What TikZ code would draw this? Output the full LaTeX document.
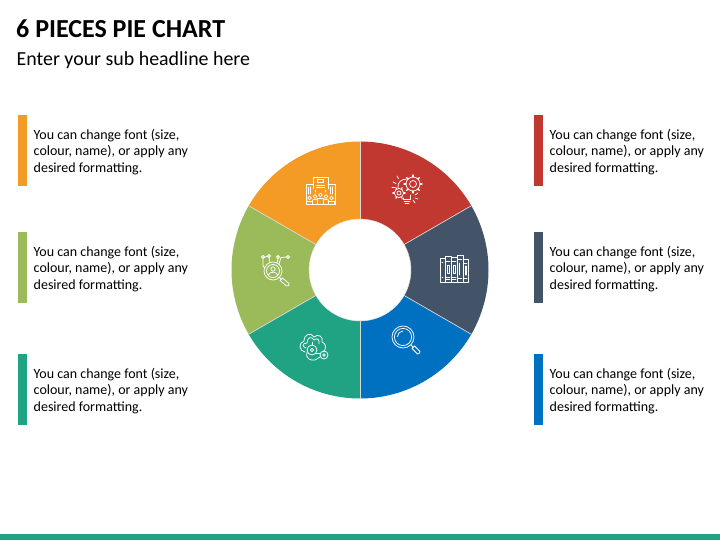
\documentclass[tikz,border=0pt]{standalone}
\usepackage{fontspec}
\setmainfont{Carlito}
\definecolor{corange}{HTML}{F49B26}
\definecolor{cred}{HTML}{C0382F}
\definecolor{cslate}{HTML}{435469}
\definecolor{cblue}{HTML}{0070C0}
\definecolor{cteal}{HTML}{1FA383}
\definecolor{cgreen}{HTML}{9BBB5B}
\tikzset{
 titletext/.style={anchor=west,inner sep=0pt,font=\fontsize{26}{30}\selectfont\bfseries,text=black},
 subtext/.style={anchor=west,inner sep=0pt,font=\fontsize{19.9}{24}\selectfont,text=black},
 bodytext/.style={anchor=north west,inner sep=0pt,align=left,font=\fontsize{14}{16.5}\selectfont,text=black},
 bar/.style={anchor=north west,inner sep=0pt,minimum width=9pt,minimum height=71pt},
 ico/.style={draw=white,line width=0.75pt,fill=none,line cap=round,line join=round},
}
\newcommand{\piece}[3]{\fill[#3] (#1:51) -- (#1:128.5) arc[start angle=#1,end angle=#2,radius=128.5] -- (#2:51) arc[start angle=#2,end angle=#1,radius=51] -- cycle;}
\newcommand{\bodycopy}{You can change font (size,\\colour, name), or apply any\\desired formatting.}
\begin{document}
\begin{tikzpicture}[x=1pt,y=-1pt]
\useasboundingbox (0,0) rectangle (720,540);
\fill[white] (0,0) rectangle (720,540);
\fill[cteal] (0,534) rectangle (720,540);
\node[titletext] (title) at (16,29) {6 PIECES PIE CHART};
\node[subtext] (sub) at (16.5,60.5) {Enter your sub headline here};
% bars
\node[bar,fill=corange] (b1) at (18,115) {};
\node[bar,fill=cgreen] (b2) at (18,232) {};
\node[bar,fill=cteal] (b3) at (18,354) {};
\node[bar,fill=cred] (b4) at (534,115) {};
\node[bar,fill=cslate] (b5) at (534,232) {};
\node[bar,fill=cblue] (b6) at (534,354) {};
\node[bodytext] (t1) at (33.5,128.7) {\bodycopy};
\node[bodytext] (t2) at (33.5,245.7) {\bodycopy};
\node[bodytext] (t3) at (33.5,367.7) {\bodycopy};
\node[bodytext] (t4) at (549.5,128.7) {\bodycopy};
\node[bodytext] (t5) at (549.5,245.7) {\bodycopy};
\node[bodytext] (t6) at (549.5,367.7) {\bodycopy};
% pie (y axis points down, so angles run clockwise from east)
\begin{scope}[shift={(360,270)}]
\piece{-90}{-30}{cred}
\piece{-30}{30}{cslate}
\piece{30}{90}{cblue}
\piece{90}{150}{cteal}
\piece{150}{210}{cgreen}
\piece{210}{270}{corange}
\foreach \a in {-90,-30,30,90,150,210} \draw[white!85!black,line width=0.7pt] (\a:51) -- (\a:128.5);
\draw[white!90!black,line width=0.4pt] (0,0) circle[radius=51];
\end{scope}
% icon: buildings and people
\begin{scope}[shift={(320.5,191)},ico]
\draw (-7.5,-2) -- (-7.5,-14) -- (7.5,-14) -- (7.5,-2);
\draw (-7.5,-7) -- (-14.5,-7) -- (-14.5,13) -- (14.5,13) -- (14.5,-7) -- (7.5,-7);
\draw (-3,-12) rectangle (3,-8.5);
\draw (-4,-6) -- (4,-6) (-4,-3.5) -- (4,-3.5);
\draw (-12,-4) -- (-12,3) (-10,-4) -- (-10,3) (12,-4) -- (12,3) (10,-4) -- (10,3);
\draw (-5,-1) -- (-5,1) (5,-1) -- (5,1);
\foreach \x/\yy in {-11/7,-5.5/5.5,5.5/5.5,11/7,0/4} {\draw (\x,\yy) circle[radius=1.9];}
\draw (-14,13) -- (-14,10.5) -- (-8,10.5) -- (-8,13);
\draw (-8,13) -- (-8,9) -- (-3,8) -- (-3,13);
\draw (8,13) -- (8,9) -- (3,8) -- (3,13);
\draw (14,13) -- (14,10.5) -- (8,10.5) -- (8,13);
\draw (-3,13) -- (-3,7.5) -- (3,7.5) -- (3,13);
\end{scope}
% icon: bulb and gears
\begin{scope}[shift={(407,190)},ico]
\draw (-9,-2) .. controls (-10,-8) and (-5,-11) .. (0,-11);
\draw (-4,9) -- (3,9) -- (3,5);
\draw (-4,9) -- (-4,8);
\draw (-3,11) -- (3,11) (-2,13.5) -- (2,13.5);
\draw (6,-6) circle[radius=3.5];
\draw (6,-6) circle[radius=7];
\foreach \a in {0,45,...,315} \draw[line width=1.3pt] (6,-6) ++(\a:7) -- ++(\a:2);
\draw (-8,3) circle[radius=2];
\draw (-8,3) circle[radius=4.6];
\foreach \a in {0,60,...,300} \draw[line width=1.1pt] (-8,3) ++(\a:4.6) -- ++(\a:1.6);
\draw (-14,-8) -- (-11,-6.5) (-15,-2.5) -- (-12,-2.5) (-10,-14) -- (-8.5,-11.5);
\draw (8,5) -- (11,3) (8,8) -- (11,9) (6,10) -- (8,13);
\end{scope}
% icon: books
\begin{scope}[shift={(454,269)},ico]
\draw (-14,-11) rectangle (-9,13);
\draw (-9,-13) rectangle (-3,13);
\draw (-3,-12) rectangle (3,13);
\draw (3,-14) rectangle (9,13);
\draw (9,-10) rectangle (14,13);
\draw (-8,-8) -- (-4,-8) (-7,-4) rectangle (-5,4) (-8,8) -- (-4,8) (-8,10) -- (-4,10);
\draw (-2,-8) -- (2,-8) (-1,-4) rectangle (1,4) (-2,8) -- (2,8) (-2,10) -- (2,10);
\draw (4,-10) -- (8,-10) (5,-6) -- (5,6) (4,9) -- (8,9);
\draw (10,-6) -- (13,-6) (11,-3) -- (11,6) (12.5,-3) -- (12.5,6) (10,9) -- (13,9);
\draw (-12,-7) -- (-11,-7) (-12,8) -- (-11,8);
\end{scope}
% icon: magnifier
\begin{scope}[shift={(403,337)},ico]
\draw (0,0) circle[radius=11];
\draw (0,0) circle[radius=8.6];
\draw (-5.5,-0.5) arc[start angle=180,end angle=270,radius=5.5];
\draw (7.8,7.8) -- (10,10);
\draw (9,11.5) -- (11.5,9) -- (17,14.5) .. controls (17.5,15.5) and (15.5,17.5) .. (14.5,17) -- cycle;
\end{scope}
% icon: cloud and key
\begin{scope}[shift={(312,346)},ico]
\draw (-7,6) .. controls (-13,5) and (-14,-3) .. (-8,-5) .. controls (-8,-12) and (-1,-14) .. (2,-9) .. controls (6,-13) and (12,-9) .. (10,-4) .. controls (14,-3) and (15,3) .. (11,6);
\draw (-6,2) .. controls (-10,1) and (-10,-3) .. (-5,-3) .. controls (-5,-9) and (0,-10) .. (2,-6) .. controls (5,-9) and (8,-6) .. (7,-2);
\draw (0,4) circle[radius=5] (0,4) circle[radius=1.6];
\draw (-5,6) .. controls (-7,12) and (-2,15) .. (3,14) -- (8,11);
\draw (4,7) -- (8,7);
\draw (12,9) circle[radius=4] (12,9) circle[radius=1.3];
\draw (0,-1) -- (0,-4);
\end{scope}
% icon: magnifier with network
\begin{scope}[shift={(273,271)},ico]
\draw (0,0) circle[radius=9];
\draw (0,0) circle[radius=6.5];
\draw (0,-2) circle[radius=2.2];
\draw (-4.5,3.5) .. controls (-3,0.5) and (3,0.5) .. (4.5,3.5);
\draw (6.5,6.5) -- (8,8);
\draw (7,9.5) -- (9.5,7) -- (16,12.5) .. controls (17,14) and (15,16) .. (13.5,15) -- cycle;
\foreach \x/\yy in {-10/-14,-4/-15,5/-14,15/-14} \draw (\x,\yy) circle[radius=1.5];
\draw (-4,-13.5) -- (-3,-8.5) (5,-12.5) -- (4,-8) (13.5,-14) -- (8,-13.5) -- (6,-7);
\draw (-8.5,-13.8) -- (-5.5,-14.6);
\draw (-10,-12.5) -- (-10,-5) -- (-8,-3);
\end{scope}
\end{tikzpicture}
\end{document}
